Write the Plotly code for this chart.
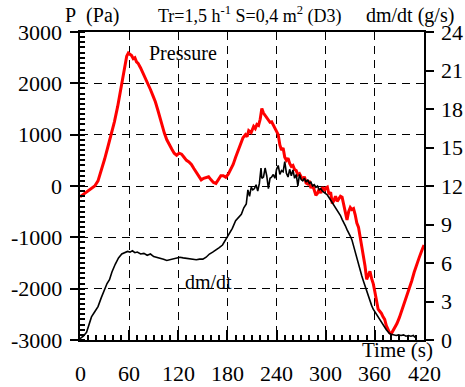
import plotly.graph_objects as go

# Pressure (Pa) vs time (s)
p_time = [0,5,10,15,18,22,26,30,34,38,42,46,50,54,57,59,61,63,65,67,69,71,74,77,80,83,86,89,92,95,98,100,103,106,109,112,115,118,121,124,127,130,133,136,139,142,145,148,151,154,157,160,163,166,169,172,175,178,181,184,187,190,193,196,199,202,204,206,209,212,214,216,218,220,222,224,226,228,230,232,234,236,238,240,242,244,246,248,250,252,254,256,258,260,262,264,266,268,270,272,274,276,278,280,282,284,286,288,290,292,294,296,298,300,302,304,306,308,310,312,314,316,318,320,322,324,326,328,330,332,334,336,338,340,342,344,346,348,350,352,354,356,358,360,362,364,366,368,370,372,374,376,378,380,382,384,387,390,393,396,399,402,405,408,411,414,417,420]
pressure = [-210,-150,-90,-40,0,100,300,520,760,1000,1250,1550,1900,2250,2530,2590,2560,2540,2480,2500,2420,2390,2300,2200,2080,2000,1880,1760,1640,1480,1300,1160,1030,900,800,720,640,600,640,620,560,500,470,420,340,260,180,120,150,170,180,120,70,50,120,200,200,170,230,320,420,560,700,800,940,1000,960,1080,1040,1160,1120,1200,1180,1300,1510,1420,1380,1320,1280,1240,1250,1180,1130,1060,1000,800,700,740,560,500,540,440,380,400,320,300,220,240,180,120,180,60,40,100,-40,20,-80,-180,-140,-60,-140,-20,-100,-40,-20,-160,-120,-340,-280,-200,-300,-260,-200,-220,-380,-560,-660,-500,-420,-460,-440,-560,-720,-800,-980,-1150,-1340,-1560,-1820,-1720,-1660,-1800,-1900,-2060,-2260,-2400,-2440,-2480,-2550,-2600,-2720,-2800,-2860,-2880,-2830,-2760,-2680,-2560,-2420,-2280,-2150,-2000,-1850,-1680,-1520,-1400,-1270,-1150]

# Mass loss rate dm/dt (g/s) vs time (s)
m_time = [0,4,8,11,14,18,22,26,30,33,36,39,43,47,51,55,58,61,64,67,70,74,78,82,86,90,94,98,102,106,110,114,118,122,126,130,134,138,142,146,150,154,158,162,166,170,174,178,182,186,190,194,197,200,203,205,207,209,211,213,215,217,219,221,222,224,226,228,230,232,234,236,238,240,242,244,246,248,250,252,254,256,258,260,262,264,266,268,270,272,274,276,278,280,282,284,286,288,290,292,294,296,298,300,302,304,306,308,310,312,314,316,318,320,322,324,326,328,330,332,334,336,338,340,342,344,346,348,350,352,354,356,358,360,362,364,366,368,370,372,374,376,378,380,383,386,389,392,395,398,401,404,407,409]
dmdt = [0.1,0.3,0.6,1.2,1.8,2.2,2.6,3.3,4.0,4.4,4.7,5.3,5.9,6.4,6.7,6.85,6.9,6.85,6.95,6.8,6.85,6.7,6.75,6.6,6.7,6.5,6.45,6.35,6.3,6.2,6.25,6.3,6.35,6.45,6.4,6.35,6.3,6.3,6.25,6.3,6.3,6.45,6.7,6.85,7.0,7.2,7.4,7.8,8.2,8.7,9.3,9.6,9.8,10.3,10.6,11.7,11.2,11.9,11.7,11.8,12.1,11.6,12.2,13.4,12.6,12.7,13.4,12.8,11.8,12.6,12.7,12.9,12.6,13.3,13.6,12.9,13.2,13.1,13.9,13.0,12.7,13.3,12.8,13.25,12.6,12.9,12.0,12.9,12.5,12.4,12.6,12.3,12.5,12.2,12.3,12.0,12.1,11.9,12.0,11.7,11.8,11.6,11.5,11.4,11.3,11.1,10.9,10.8,10.6,10.4,10.2,9.9,9.7,9.4,9.2,8.9,8.6,8.4,8.1,7.8,7.3,6.8,6.3,5.8,5.4,5.0,4.6,4.2,3.8,3.4,3.0,2.7,2.4,2.2,1.9,1.7,1.5,1.3,1.1,0.95,0.8,0.65,0.5,0.45,0.38,0.35,0.4,0.35,0.4,0.3,0.35,0.3,0.35,0.2]

x_ticks = [0, 60, 120, 180, 240, 300, 360, 420]
p_ticks = [-3000, -2000, -1000, 0, 1000, 2000, 3000]
m_ticks = [0, 3, 6, 9, 12, 15, 18, 21, 24]

FONT = "Liberation Serif"
TICK_SIZE = 22

fig = go.Figure()
fig.add_trace(go.Scatter(x=p_time, y=pressure, mode="lines",
                         line=dict(color="#ff0000", width=3), yaxis="y"))
fig.add_trace(go.Scatter(x=m_time, y=dmdt, mode="lines",
                         line=dict(color="black", width=1.6), yaxis="y2"))

fig.update_layout(
    template="none",
    width=465, height=387,
    margin=dict(l=80, r=41, t=32, b=47, autoexpand=False),
    paper_bgcolor="white", plot_bgcolor="white",
    showlegend=False,
    font=dict(family=FONT, size=21, color="black"),
    xaxis=dict(range=[0, 420], tickmode="array", tickvals=x_ticks, showticklabels=False,
               ticks="inside", ticklen=10,
               tickwidth=1.5, tickcolor="black", automargin=False,
               minor=dict(dtick=10, ticks="inside", ticklen=5, tickcolor="black", showgrid=False),
               showline=True, linecolor="black", linewidth=2, mirror=True,
               showgrid=True, gridcolor="black", gridwidth=1, griddash="8px,6px",
               zeroline=False),
    yaxis=dict(range=[-3000, 3000], tickmode="array", tickvals=p_ticks, showticklabels=False,
               ticks="outside", ticklen=8,
               tickwidth=1.5, tickcolor="black", automargin=False,
               minor=dict(dtick=100, ticks="inside", ticklen=5, tickcolor="black", showgrid=False),
               showline=True, linecolor="black", linewidth=2,
               showgrid=True, gridcolor="black", gridwidth=1, griddash="8px,6px",
               zeroline=False),
    yaxis2=dict(range=[0, 24], tickmode="array", tickvals=m_ticks, showticklabels=False,
                overlaying="y", side="right",
                ticks="outside", ticklen=8, tickwidth=1.5, tickcolor="black", automargin=False,
                showline=True, linecolor="black", linewidth=2,
                showgrid=False, zeroline=False),
)

def label(x, y, text, size, xref="paper", yref="paper", xanchor="center"):
    fig.add_annotation(x=x, y=y, xref=xref, yref=yref, text=text, showarrow=False,
                       xanchor=xanchor, yanchor="middle",
                       font=dict(family=FONT, size=size, color="black"))

# tick labels (drawn as text so the serif face is used)
for v in x_ticks:
    label(v, -0.110, str(v), TICK_SIZE, xref="x")
for v in p_ticks:
    label(-0.047, v, str(v), TICK_SIZE, yref="y", xanchor="right")
for v in m_ticks:
    label(1.043, v, str(v), TICK_SIZE, yref="y2", xanchor="left")

label(0.035, 1.055, "P&nbsp;&nbsp;(Pa)", 20)
label(0.494, 1.055, "Tr=1,5 h<sup>-1</sup> S=0,4 m<sup>2</sup> (D3)", 18)
label(0.959, 1.055, "dm/dt (g/s)", 20)
label(0.924, -0.032, "Time (s)", 21)
label(126, 2590, "Pressure", 20, "x", "y")
label(157, -1870, "dm/dt", 20, "x", "y")

fig.write_html("out.html")
